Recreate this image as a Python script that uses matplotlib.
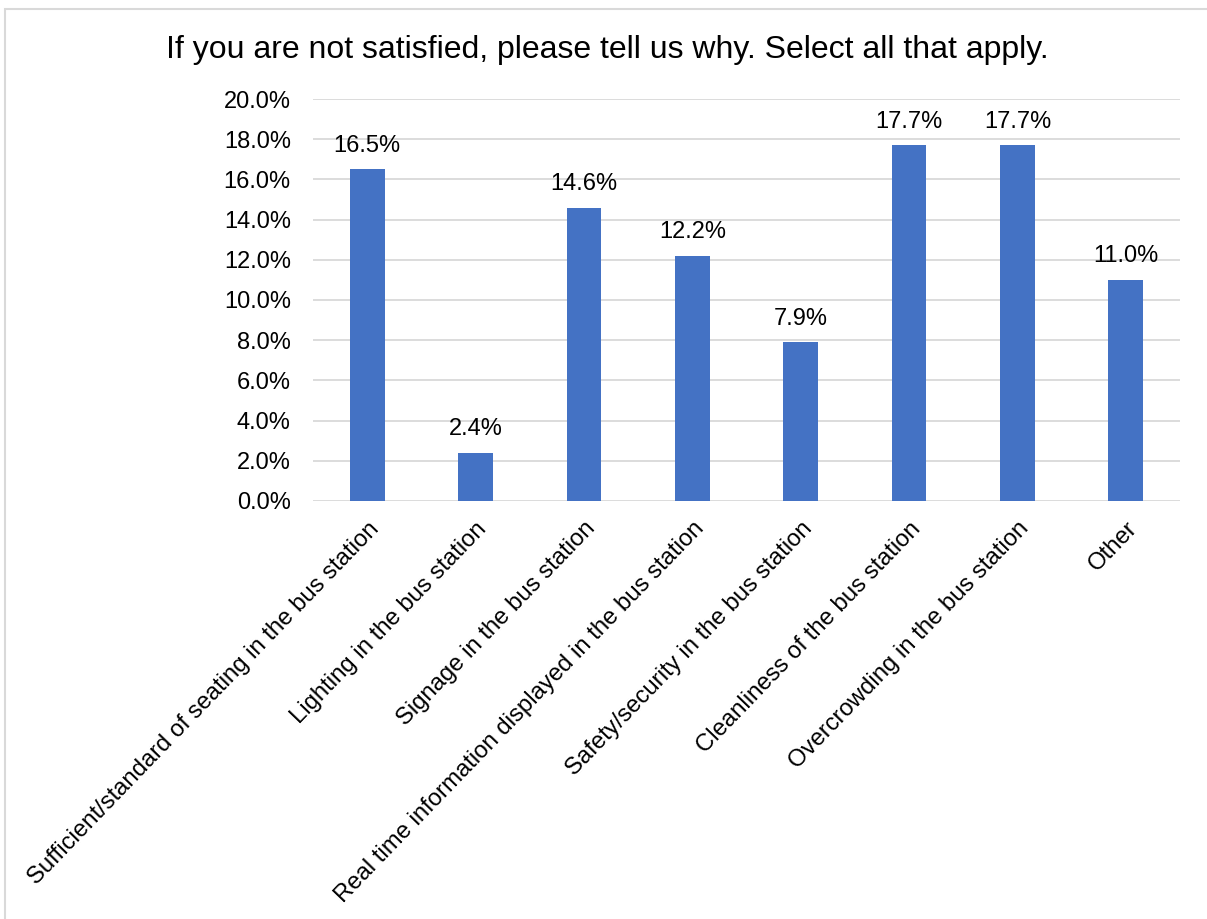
import matplotlib.pyplot as plt
from matplotlib.patches import Rectangle
from matplotlib.ticker import FuncFormatter, MultipleLocator

categories = [
    "Sufficient/standard of seating in the bus station",
    "Lighting in the bus station",
    "Signage in the bus station",
    "Real time information displayed in the bus station",
    "Safety/security in the bus station",
    "Cleanliness of the bus station",
    "Overcrowding in the bus station",
    "Other",
]
shares = [16.5, 2.4, 14.6, 12.2, 7.9, 17.7, 17.7, 11.0]

title = "If you are not satisfied, please tell us why. Select all that apply."

plt.rcParams["font.family"] = ["Liberation Sans", "DejaVu Sans"]

W, H = 1207, 919
fig = plt.figure(figsize=(W / 100, H / 100), dpi=100)

# chart frame, runs off the right and bottom edges
fig.patches.append(Rectangle((4.5 / W, -0.01), 1.0, 1 - 8.5 / H + 0.01,
                             transform=fig.transFigure, fill=False,
                             edgecolor="#D9D9D9", linewidth=1.5))

left, right, top, bottom = 313, 1180, 99, 501
ax = fig.add_axes([left / W, 1 - bottom / H, (right - left) / W, (bottom - top) / H])

x = range(len(categories))
bars = ax.bar(x, shares, width=0.32, color="#4472C4", zorder=3)

for rect, v in zip(bars, shares):
    ax.annotate(f"{v:.1f}%", (rect.get_x() + rect.get_width() / 2, v),
                xytext=(0, 9), textcoords="offset points",
                ha="center", va="bottom", fontsize=17, color="#000000")

ax.set_ylim(0, 20)
ax.set_xlim(-0.5, len(categories) - 0.5)
ax.yaxis.set_major_locator(MultipleLocator(2))
ax.yaxis.set_major_formatter(FuncFormatter(lambda v, _: f"{v:.1f}%"))
ax.grid(axis="y", color="#D9D9D9", linewidth=1.3, zorder=0)

ax.set_xticks(list(x))
ax.set_xticklabels(categories, rotation=46, ha="right", rotation_mode="anchor",
                   fontsize=17.2)
ax.tick_params(axis="y", labelsize=17)
ax.tick_params(axis="both", length=0, colors="#000000")
ax.tick_params(axis="x", pad=12)
ax.tick_params(axis="y", pad=16)

for s in ax.spines.values():
    s.set_visible(False)

fig.text(607 / W, 1 - 50 / H, title, ha="center", va="center", fontsize=23)

fig.savefig("out.png", dpi=100)
